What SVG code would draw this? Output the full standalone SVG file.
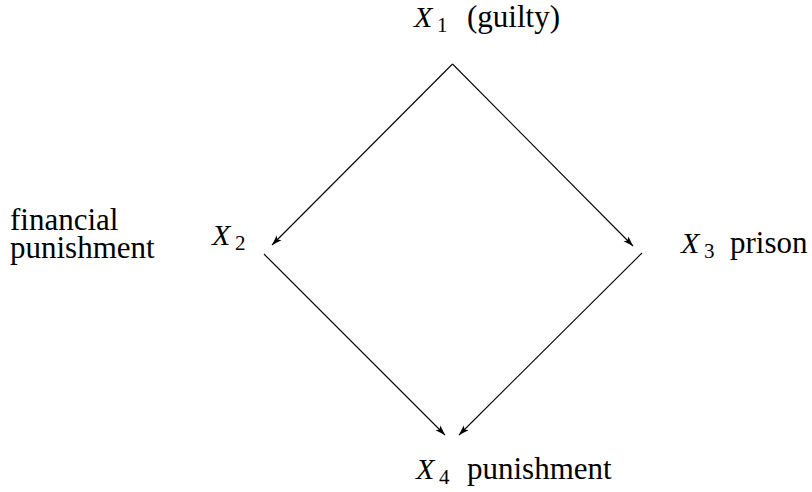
<svg xmlns="http://www.w3.org/2000/svg" width="812" height="492" viewBox="0 0 812 492">
<style>
svg text, g text, text{font-family:"Liberation Serif","Times New Roman",serif !important;fill:#000}
.v{font-style:italic}
</style>
<defs>
<marker id="a" viewBox="0 0 10 8" refX="10" refY="4" markerWidth="10" markerHeight="8" markerUnits="userSpaceOnUse" orient="auto">
<path d="M0,0.6 L10,4 L0,7.4 L2.2,4 Z" fill="#000"/>
</marker>
</defs>
<rect width="812" height="492" fill="#fff"/>
<g id="edges" stroke="#000" stroke-width="1.1" fill="none" marker-end="url(#a)">
<line x1="452.5" y1="64" x2="272" y2="245"/>
<line x1="452.5" y1="64" x2="633" y2="246"/>
<line x1="264" y1="254" x2="445" y2="435"/>
<line x1="642" y1="253" x2="459" y2="435"/>
</g>
<g id="X1">
<text class="v" x="414" y="27" font-size="30" font-family="Liberation Serif" style="font-family:'Liberation Serif',serif !important">X</text>
<text x="437" y="32" font-size="21" font-family="Liberation Serif" style="font-family:'Liberation Serif',serif !important">1</text>
<text x="467" y="27" font-size="31" font-family="Liberation Serif" style="font-family:'Liberation Serif',serif !important">(guilty)</text>
</g>
<g id="X2">
<text class="v" x="212" y="245" font-size="30" font-family="Liberation Serif" style="font-family:'Liberation Serif',serif !important">X</text>
<text x="235" y="250" font-size="21" font-family="Liberation Serif" style="font-family:'Liberation Serif',serif !important">2</text>
<text x="10" y="230" font-size="31" font-family="Liberation Serif" style="font-family:'Liberation Serif',serif !important">financial</text>
<text x="10" y="258" font-size="31" font-family="Liberation Serif" style="font-family:'Liberation Serif',serif !important">punishment</text>
</g>
<g id="X3">
<text class="v" x="681" y="253" font-size="30" font-family="Liberation Serif" style="font-family:'Liberation Serif',serif !important">X</text>
<text x="704" y="258" font-size="21" font-family="Liberation Serif" style="font-family:'Liberation Serif',serif !important">3</text>
<text x="730" y="253" font-size="31" font-family="Liberation Serif" style="font-family:'Liberation Serif',serif !important">prison</text>
</g>
<g id="X4">
<text class="v" x="416" y="479" font-size="30" font-family="Liberation Serif" style="font-family:'Liberation Serif',serif !important">X</text>
<text x="439" y="484" font-size="21" font-family="Liberation Serif" style="font-family:'Liberation Serif',serif !important">4</text>
<text x="467" y="479" font-size="31" font-family="Liberation Serif" style="font-family:'Liberation Serif',serif !important">punishment</text>
</g>
</svg>
